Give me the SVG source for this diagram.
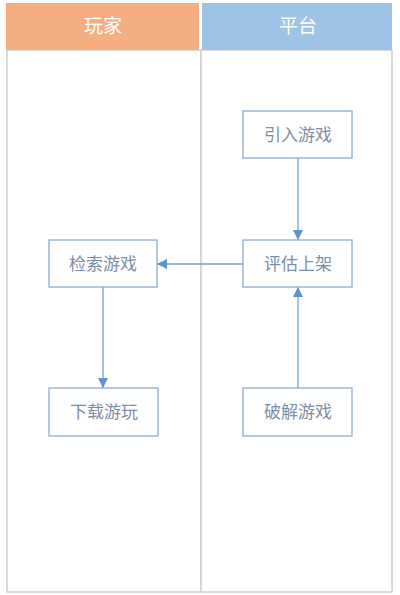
<svg xmlns="http://www.w3.org/2000/svg" width="400" height="595" viewBox="0 0 400 595">
<defs>
<style>
.lane{fill:#ffffff;stroke:#cfcfcf;stroke-width:1.5}
.hdr{font-family:"Noto Sans CJK SC","Noto Sans",sans-serif;font-size:19px;fill:#ffffff;text-anchor:middle}
.node rect{fill:#ffffff;stroke:#8eaad3;stroke-width:1.3}
.node text{font-family:"Noto Sans CJK SC","Noto Sans",sans-serif;font-size:17px;fill:#7d8da5;text-anchor:middle}
.conn{stroke:#6f9fd6;stroke-width:1.3;fill:none;marker-end:url(#arr)}
</style>
<marker id="arr" viewBox="0 0 10 10" refX="10" refY="5" markerWidth="10" markerHeight="10" markerUnits="userSpaceOnUse" orient="auto">
<path d="M0,0 L10,5 L0,10 z" fill="#5b93d3"/>
</marker>
</defs>
<rect width="400" height="595" fill="#ffffff"/>
<g id="lanes">
<rect class="lane" x="7" y="50" width="194" height="542"/>
<rect class="lane" x="201" y="50" width="191" height="542"/>
<rect x="6" y="3" width="193" height="47" fill="#f4ae82"/>
<rect x="202" y="3" width="190" height="47" fill="#9dc3e6"/>
<text class="hdr" x="103" y="33">玩家</text>
<text class="hdr" x="298" y="33">平台</text>
</g>
<g id="connectors">
<line class="conn" x1="298" y1="158" x2="298" y2="240"/>
<line class="conn" x1="243" y1="264" x2="157" y2="264"/>
<line class="conn" x1="103" y1="287" x2="103" y2="388"/>
<line class="conn" x1="298" y1="388" x2="298" y2="287"/>
</g>
<g id="n-yinru" class="node"><rect x="243" y="111" width="109" height="47"/><text x="298" y="141">引入游戏</text></g>
<g id="n-pinggu" class="node"><rect x="243" y="240" width="109" height="47"/><text x="298" y="270">评估上架</text></g>
<g id="n-jiansuo" class="node"><rect x="49" y="240" width="108" height="47"/><text x="103" y="270">检索游戏</text></g>
<g id="n-xiazai" class="node"><rect x="49" y="388" width="109" height="48"/><text x="104" y="418">下载游玩</text></g>
<g id="n-pojie" class="node"><rect x="243" y="388" width="109" height="48"/><text x="298" y="418">破解游戏</text></g>
</svg>
